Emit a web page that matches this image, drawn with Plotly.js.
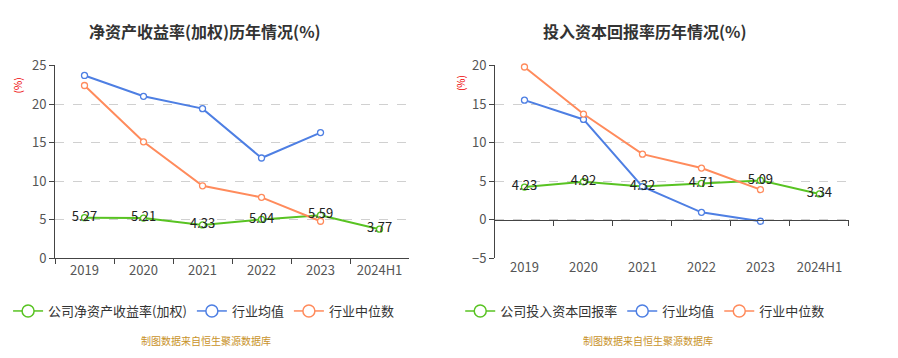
<!DOCTYPE html>
<html>
<head>
<meta charset="utf-8">
<script src="https://cdn.plot.ly/plotly-3.0.1.min.js"></script>
<style>html,body{margin:0;padding:0;background:#fff;}#chart{width:898px;height:358px;}</style>
</head>
<body>
<div id="chart"></div>
<script>
const categories = ['2019', '2020', '2021', '2022', '2023', '2024H1'];

// Left chart: ROE (weighted)
const roeCompany = [5.27, 5.21, 4.33, 5.04, 5.59, 3.77];
const roeIndustryAvg = [23.7, 21.0, 19.4, 13.0, 16.3, null];
const roeIndustryMedian = [22.4, 15.1, 9.4, 7.9, 4.8, null];

// Right chart: ROIC
const roicCompany = [4.23, 4.92, 4.32, 4.71, 5.09, 3.34];
const roicIndustryAvg = [15.5, 13.0, 4.3, 0.96, -0.2, null];
const roicIndustryMedian = [19.8, 13.7, 8.5, 6.7, 3.9, null];

const leftTitle = '净资产收益率(加权)历年情况(%)';
const rightTitle = '投入资本回报率历年情况(%)';
const leftNames = ['公司净资产收益率(加权)', '行业均值', '行业中位数'];
const rightNames = ['公司投入资本回报率', '行业均值', '行业中位数'];
const sourceText = '制图数据来自恒生聚源数据库';

const GREEN = '#58c322', BLUE = '#4e7fe3', ORANGE = '#ff8b5c';
const FONT = '"Noto Sans CJK SC", "Noto Sans", sans-serif';

function lineTrace(y, color, xa, ya) {
  return {
    x: categories, y: y, type: 'scatter', mode: 'lines+markers', showlegend: false,
    xaxis: xa, yaxis: ya,
    line: {color: color, width: 2},
    marker: {symbol: 'circle', size: 6, color: '#fff', line: {color: color, width: 1.3}},
    cliponaxis: false, hoverinfo: 'x+y'
  };
}
function legendTrace(name, color, xa, ya, legend) {
  return {
    x: [categories[0]], y: [null], name: name, type: 'scatter', mode: 'lines+markers',
    xaxis: xa, yaxis: ya, legend: legend, hoverinfo: 'skip',
    line: {color: color, width: 1.5},
    marker: {symbol: 'circle', size: 12, color: '#fff', line: {color: color, width: 1.5}}
  };
}
function labelTrace(y, xa, ya) {
  return {
    x: categories, y: y, type: 'scatter', mode: 'text', showlegend: false,
    xaxis: xa, yaxis: ya, text: y.map(v => v.toFixed(2)),
    textposition: 'middle center', textfont: {size: 13, color: '#222', family: FONT},
    cliponaxis: false, hoverinfo: 'skip'
  };
}

const data = [
  lineTrace(roeCompany, GREEN, 'x', 'y'),
  lineTrace(roeIndustryAvg, BLUE, 'x', 'y'),
  lineTrace(roeIndustryMedian, ORANGE, 'x', 'y'),
  labelTrace(roeCompany, 'x', 'y'),
  legendTrace(leftNames[0], GREEN, 'x', 'y', 'legend'),
  legendTrace(leftNames[1], BLUE, 'x', 'y', 'legend'),
  legendTrace(leftNames[2], ORANGE, 'x', 'y', 'legend'),
  lineTrace(roicCompany, GREEN, 'x2', 'y2'),
  lineTrace(roicIndustryAvg, BLUE, 'x2', 'y2'),
  lineTrace(roicIndustryMedian, ORANGE, 'x2', 'y2'),
  labelTrace(roicCompany, 'x2', 'y2'),
  legendTrace(rightNames[0], GREEN, 'x2', 'y2', 'legend2'),
  legendTrace(rightNames[1], BLUE, 'x2', 'y2', 'legend2'),
  legendTrace(rightNames[2], ORANGE, 'x2', 'y2', 'legend2'),
  {x: categories, y: categories.map(() => null), xaxis: 'x3', yaxis: 'y2', type: 'scatter',
   mode: 'lines', showlegend: false, hoverinfo: 'skip'}
];

const yDom = [0.2785, 0.8172];
const rightYRange = [-5, 20];
const zeroPos = yDom[0] + (0 - rightYRange[0]) / (rightYRange[1] - rightYRange[0]) * (yDom[1] - yDom[0]);

const tickFont = {size: 13, color: '#555', family: FONT};
const baseX = {
  type: 'category', categoryorder: 'array', categoryarray: categories,
  range: [-0.5, 5.5], tickfont: tickFont, showgrid: false, zeroline: false,
  fixedrange: true
};
const baseY = {
  tickfont: tickFont, dtick: 5, showgrid: true, gridcolor: '#d0d0d0', griddash: 'dash',
  gridwidth: 1, zeroline: false, showline: true, linecolor: '#444', linewidth: 1,
  ticks: 'outside', ticklen: 5, tickcolor: '#444', fixedrange: true
};

const legendBase = {
  orientation: 'h', yanchor: 'middle', y: 0.1313, xanchor: 'left',
  font: {size: 13, color: '#333', family: FONT}, itemwidth: 30,
  bgcolor: 'rgba(0,0,0,0)', itemclick: false, itemdoubleclick: false
};

const layout = {
  width: 898, height: 358,
  margin: {l: 0, r: 0, t: 0, b: 0},
  paper_bgcolor: '#fff', plot_bgcolor: '#fff',
  font: {family: FONT},
  showlegend: true,
  xaxis: Object.assign({}, baseX, {domain: [0.06125, 0.4555], anchor: 'y',
    showline: true, linecolor: '#444', ticks: 'outside', tickson: 'boundaries',
    ticklen: 5, tickcolor: '#444'}),
  yaxis: Object.assign({}, baseY, {domain: yDom, range: [0, 25], anchor: 'x'}),
  xaxis2: Object.assign({}, baseX, {domain: [0.5512, 0.9454], anchor: 'y2',
    showline: false, ticks: ''}),
  yaxis2: Object.assign({}, baseY, {domain: yDom, range: rightYRange, anchor: 'x2'}),
  xaxis3: Object.assign({}, baseX, {overlaying: 'x2', anchor: 'free', position: zeroPos,
    showline: true, linecolor: '#444', ticks: 'outside', tickson: 'boundaries',
    ticklen: 5, tickcolor: '#444', showticklabels: false}),
  legend: Object.assign({}, legendBase, {x: 0.009}),
  legend2: Object.assign({}, legendBase, {x: 0.5125}),
  annotations: [
    {text: '<b>' + leftTitle + '</b>', xref: 'paper', yref: 'paper', x: 0.2288, y: 0.9148,
     xanchor: 'center', yanchor: 'middle', showarrow: false, font: {size: 16, color: '#333', family: FONT}},
    {text: '<b>' + rightTitle + '</b>', xref: 'paper', yref: 'paper', x: 0.7183, y: 0.9148,
     xanchor: 'center', yanchor: 'middle', showarrow: false, font: {size: 16, color: '#333', family: FONT}},
    {text: '(%)', xref: 'paper', yref: 'paper', x: 0.0205, y: 0.7626, textangle: -90,
     xanchor: 'center', yanchor: 'middle', showarrow: false, font: {size: 10, color: '#e00', family: FONT}},
    {text: '(%)', xref: 'paper', yref: 'paper', x: 0.5122, y: 0.768, textangle: -90,
     xanchor: 'center', yanchor: 'middle', showarrow: false, font: {size: 10, color: '#e00', family: FONT}},
    {text: sourceText, xref: 'paper', yref: 'paper', x: 0.2294, y: 0.0475,
     xanchor: 'center', yanchor: 'middle', showarrow: false, font: {size: 10, color: '#c8922a', family: FONT}},
    {text: sourceText, xref: 'paper', yref: 'paper', x: 0.7216, y: 0.0475,
     xanchor: 'center', yanchor: 'middle', showarrow: false, font: {size: 10, color: '#c8922a', family: FONT}}
  ]
};

Plotly.newPlot('chart', data, layout, {staticPlot: true, displayModeBar: false});
</script>
</body>
</html>
